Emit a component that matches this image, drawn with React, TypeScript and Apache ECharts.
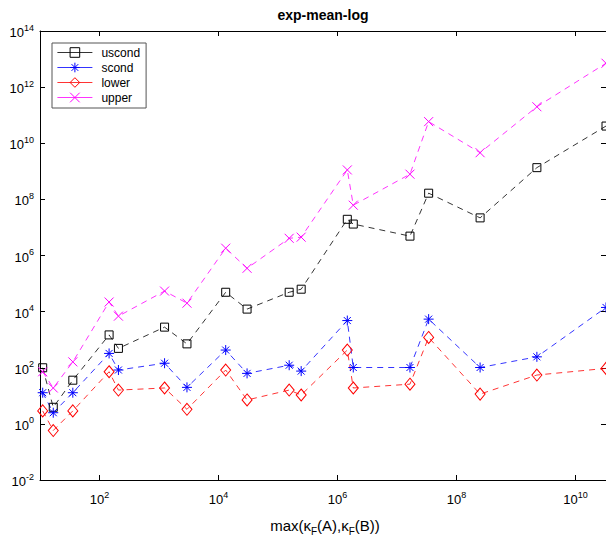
import React, { useEffect, useRef } from 'react';
import * as echarts from 'echarts';

const FONT = '"Liberation Sans", Arial, Helvetica, sans-serif';

// x positions: max(kappa_F(A), kappa_F(B))
const xVals = [11.1, 16.7, 35.6, 145, 208, 1240, 2950, 1.32e4, 3.02e4, 1.54e5, 2.45e5, 1.46e6, 1.84e6, 1.65e7, 3.4e7, 2.49e8, 2.24e9, 3.25e10];

const uscond = [100, 3.9, 36, 1480, 490, 2800, 710, 4.9e4, 1.23e4, 4.9e4, 6.3e4, 1.95e7, 1.32e7, 4.9e6, 1.66e8, 2.19e7, 1.35e9, 4.1e10];
const scond = [12.9, 2.5, 12.9, 324, 83, 145, 20, 427, 63, 123, 76, 4800, 102, 102, 5400, 102, 245, 1.41e4];
const lower = [2.9, 0.58, 2.9, 72, 16, 19, 3.3, 83, 7.1, 16, 10.7, 427, 19, 26, 1200, 11.5, 55, 95];
const upper = [72, 19, 162, 2.2e4, 6900, 5.4e4, 2.0e4, 1.82e6, 3.5e5, 4.1e6, 4.5e6, 1.12e9, 6.2e7, 7.9e8, 5.9e10, 4.6e9, 2.0e11, 7.1e12];

const xTicks = [1e2, 1e4, 1e6, 1e8, 1e10];
const yTicks = [1e-2, 1, 1e2, 1e4, 1e6, 1e8, 1e10, 1e12, 1e14];

const seriesNames = ['uscond', 'scond', 'lower', 'upper'];
const seriesColors = ['#000000', '#0000ff', '#ff0000', '#ff00ff'];

const SYM_SQUARE = 'path://M0,0 L10,0 L10,10 L0,10 Z';
const SYM_STAR = 'path://M5,0 L5,10 M0,5 L10,5 M1.5,1.5 L8.5,8.5 M1.5,8.5 L8.5,1.5';
const SYM_DIAMOND = 'path://M5,0 L10,6 L5,12 L0,6 Z';
const SYM_X = 'path://M0,0 L10,10 M0,10 L10,0';

const expLabel = (v: number) => {
  const e = Math.round(Math.log10(v));
  return `{b|10}{s|${e}}`;
};

const tickRich = {
  b: { fontSize: 13, fontFamily: FONT, color: '#000', verticalAlign: 'bottom', lineHeight: 16 },
  s: { fontSize: 9, fontFamily: FONT, color: '#000', verticalAlign: 'top' },
};

export default function App() {
  const ref = useRef<HTMLDivElement>(null);
  useEffect(() => {
    const chart = echarts.init(ref.current!, null, { renderer: 'svg' });
    const allData = [uscond, scond, lower, upper];
    const symbols = [SYM_SQUARE, SYM_STAR, SYM_DIAMOND, SYM_X];
    const sizes: any[] = [8, 10, [10, 12], 9];
    const axisLineStyle = { color: '#000', width: 1 };
    const option: any = {
      animation: false,
      backgroundColor: '#fff',
      grid: { left: 40, right: 0, top: 31, bottom: 60, containLabel: false },
      graphic: [
        {
          type: 'text',
          x: 323,
          y: 15,
          style: {
            text: 'exp-mean-log',
            font: `bold 14px ${FONT}`,
            fill: '#000',
            align: 'center',
            verticalAlign: 'middle',
          },
        },
        {
          type: 'text',
          x: 325,
          y: 527,
          style: {
            text: '{a|max(κ}{s|F}{a|(A),κ}{s|F}{a|(B))}',
            align: 'center',
            verticalAlign: 'middle',
            rich: {
              a: { fontSize: 15, fontFamily: FONT, fill: '#000', color: '#000', verticalAlign: 'top', lineHeight: 19 },
              s: { fontSize: 10, fontFamily: FONT, fill: '#000', color: '#000', verticalAlign: 'bottom' },
            },
          },
        },
      ],
      legend: {
        left: 52,
        top: 43,
        orient: 'vertical',
        padding: [2, 6, 3, 5],
        itemWidth: 35,
        itemHeight: 12,
        itemGap: 0,
        borderColor: '#555',
        borderWidth: 1,
        backgroundColor: '#fff',
        borderRadius: 0,
        textStyle: { fontSize: 12, lineHeight: 15, fontFamily: FONT, color: '#000', padding: [0, 0, 0, 4] },
        lineStyle: { type: 'solid', width: 0.8 },
        itemStyle: { borderWidth: 1 },
        data: seriesNames,
      },
      xAxis: [
        {
          type: 'log',
          logBase: 10,
          min: 10,
          max: xVals[xVals.length - 1],
          position: 'bottom',
          axisLine: { show: true, lineStyle: axisLineStyle },
          axisTick: { inside: true, length: 5, lineStyle: axisLineStyle, customValues: xTicks },
          axisLabel: { margin: 10, formatter: expLabel, rich: tickRich, customValues: xTicks },
          splitLine: { show: false },
          minorTick: { show: false },
        },
        {
          type: 'log',
          logBase: 10,
          min: 10,
          max: xVals[xVals.length - 1],
          position: 'top',
          axisLine: { show: true, lineStyle: axisLineStyle },
          axisTick: { inside: true, length: 5, lineStyle: axisLineStyle, customValues: xTicks },
          axisLabel: { show: false },
          splitLine: { show: false },
        },
      ],
      yAxis: [
        {
          type: 'log',
          logBase: 10,
          min: 1e-2,
          max: 1e14,
          position: 'left',
          axisLine: { show: true, lineStyle: axisLineStyle },
          axisTick: { inside: true, length: 5, lineStyle: axisLineStyle, customValues: yTicks },
          axisLabel: { margin: 6, formatter: expLabel, rich: tickRich, customValues: yTicks },
          splitLine: { show: false },
        },
        {
          type: 'log',
          logBase: 10,
          min: 1e-2,
          max: 1e14,
          position: 'right',
          axisLine: { show: true, lineStyle: axisLineStyle },
          axisTick: { inside: true, length: 5, lineStyle: axisLineStyle, customValues: yTicks },
          axisLabel: { show: false },
          splitLine: { show: false },
        },
      ],
      series: seriesNames.map((name, k) => ({
        name,
        type: 'line',
        xAxisIndex: 0,
        yAxisIndex: 0,
        data: xVals.map((x, i) => [x, allData[k][i]]),
        symbol: symbols[k],
        symbolSize: sizes[k],
        showAllSymbol: true,
        lineStyle: { color: seriesColors[k], width: 0.8, type: [6, 5] },
        itemStyle: { color: 'none', borderColor: seriesColors[k], borderWidth: 1 },
        emphasis: { disabled: true },
      })),
    };
    chart.setOption(option);
    return () => chart.dispose();
  }, []);
  return (
    <div
      ref={ref}
      style={{ position: 'absolute', left: 0, top: 0, width: 606, height: 540, background: '#fff' }}
    />
  );
}
